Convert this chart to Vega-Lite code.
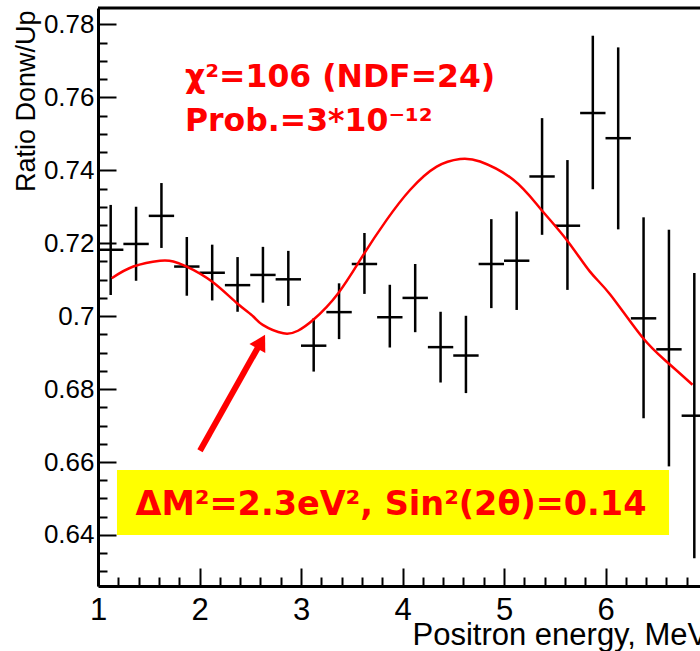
{
  "$schema": "https://vega.github.io/schema/vega-lite/v6.json",
  "width": 602,
  "height": 578,
  "autosize": {"type": "none"},
  "padding": {"left": 98, "top": 8, "right": 0, "bottom": 65},
  "background": "white",
  "config": {
    "view": {"stroke": null},
    "axis": {
      "grid": false,
      "tickColor": "black",
      "tickWidth": 2,
      "domainColor": "black",
      "domainWidth": 3,
      "labelFont": "Liberation Sans",
      "labelColor": "black",
      "labelFlush": false,
      "labelOverlap": false,
      "titleFont": "Liberation Sans",
      "titleFontWeight": "normal",
      "titleColor": "black"
    }
  },
  "resolve": {"axis": {"x": "independent", "y": "independent"}},
  "datasets": {
    "pts": [
      {"E": 1.125, "xlo": 1.0, "xhi": 1.25, "v": 0.7182, "lo": 0.7058, "hi": 0.7305},
      {"E": 1.375, "xlo": 1.25, "xhi": 1.5, "v": 0.7198, "lo": 0.7097, "hi": 0.7300},
      {"E": 1.625, "xlo": 1.5, "xhi": 1.75, "v": 0.7275, "lo": 0.7187, "hi": 0.7365},
      {"E": 1.875, "xlo": 1.75, "xhi": 2.0, "v": 0.7136, "lo": 0.7056, "hi": 0.7217},
      {"E": 2.125, "xlo": 2.0, "xhi": 2.25, "v": 0.7119, "lo": 0.7043, "hi": 0.7196},
      {"E": 2.375, "xlo": 2.25, "xhi": 2.5, "v": 0.7085, "lo": 0.7012, "hi": 0.7162},
      {"E": 2.625, "xlo": 2.5, "xhi": 2.75, "v": 0.7113, "lo": 0.7037, "hi": 0.7190},
      {"E": 2.875, "xlo": 2.75, "xhi": 3.0, "v": 0.7101, "lo": 0.7028, "hi": 0.7179},
      {"E": 3.125, "xlo": 3.0, "xhi": 3.25, "v": 0.6919, "lo": 0.6848, "hi": 0.6994},
      {"E": 3.375, "xlo": 3.25, "xhi": 3.5, "v": 0.7011, "lo": 0.6937, "hi": 0.7090},
      {"E": 3.625, "xlo": 3.5, "xhi": 3.75, "v": 0.7143, "lo": 0.7061, "hi": 0.7228},
      {"E": 3.875, "xlo": 3.75, "xhi": 4.0, "v": 0.6997, "lo": 0.6914, "hi": 0.7086},
      {"E": 4.125, "xlo": 4.0, "xhi": 4.25, "v": 0.7050, "lo": 0.6956, "hi": 0.7143},
      {"E": 4.375, "xlo": 4.25, "xhi": 4.5, "v": 0.6915, "lo": 0.6818, "hi": 0.7012},
      {"E": 4.625, "xlo": 4.5, "xhi": 4.75, "v": 0.6892, "lo": 0.6789, "hi": 0.7001},
      {"E": 4.875, "xlo": 4.75, "xhi": 5.0, "v": 0.7143, "lo": 0.7022, "hi": 0.7266},
      {"E": 5.125, "xlo": 5.0, "xhi": 5.25, "v": 0.7152, "lo": 0.7017, "hi": 0.7287},
      {"E": 5.375, "xlo": 5.25, "xhi": 5.5, "v": 0.7383, "lo": 0.7223, "hi": 0.7543},
      {"E": 5.625, "xlo": 5.5, "xhi": 5.75, "v": 0.7248, "lo": 0.7072, "hi": 0.7428},
      {"E": 5.875, "xlo": 5.75, "xhi": 6.0, "v": 0.7557, "lo": 0.7348, "hi": 0.7769},
      {"E": 6.125, "xlo": 6.0, "xhi": 6.25, "v": 0.7488, "lo": 0.7238, "hi": 0.7737},
      {"E": 6.375, "xlo": 6.25, "xhi": 6.5, "v": 0.6994, "lo": 0.6720, "hi": 0.7271},
      {"E": 6.625, "xlo": 6.5, "xhi": 6.75, "v": 0.6909, "lo": 0.6588, "hi": 0.7237},
      {"E": 6.875, "xlo": 6.75, "xhi": 7.0, "v": 0.6727, "lo": 0.6336, "hi": 0.7118}
    ],
    "fit": [
      {"E": 1.135, "v": 0.7104},
      {"E": 1.348, "v": 0.7136},
      {"E": 1.611, "v": 0.7152},
      {"E": 1.742, "v": 0.7150},
      {"E": 1.874, "v": 0.7136},
      {"E": 2.123, "v": 0.7095},
      {"E": 2.367, "v": 0.7036},
      {"E": 2.530, "v": 0.6999},
      {"E": 2.623, "v": 0.6976},
      {"E": 2.826, "v": 0.6953},
      {"E": 2.970, "v": 0.6960},
      {"E": 3.121, "v": 0.6990},
      {"E": 3.367, "v": 0.7063},
      {"E": 3.614, "v": 0.7168},
      {"E": 3.844, "v": 0.7264},
      {"E": 4.074, "v": 0.7346},
      {"E": 4.337, "v": 0.7410},
      {"E": 4.567, "v": 0.7431},
      {"E": 4.764, "v": 0.7424},
      {"E": 5.092, "v": 0.7374},
      {"E": 5.355, "v": 0.7296},
      {"E": 5.618, "v": 0.7209},
      {"E": 5.847, "v": 0.7122},
      {"E": 6.044, "v": 0.7060},
      {"E": 6.357, "v": 0.6944},
      {"E": 6.603, "v": 0.6875},
      {"E": 6.857, "v": 0.6812}
    ],
    "box": [{"x1": 1.187, "x2": 6.626, "y1": 0.6578, "y2": 0.640}],
    "arrow": [{"x1": 2.005, "y1": 0.6631, "x2": 2.586, "y2": 0.6919}],
    "head": [{"E": 2.608, "v": 0.6930, "ang": 29.3}],
    "labels": [
      {"E": 1.857, "v": 0.7629, "t": "χ²=106 (NDF=24)"},
      {"E": 1.857, "v": 0.7508, "t": "Prob.=3*10⁻¹²"}
    ],
    "boxtext": [{"E": 3.887, "v": 0.6455, "t": "ΔM²=2.3eV², Sin²(2θ)=0.14"}]
  },
  "layer": [
    {
      "data": {"name": "box"},
      "mark": {"type": "rect", "color": "#ffff00"},
      "encoding": {
        "x": {
          "field": "x1", "type": "quantitative",
          "scale": {"domain": [1, 6.931], "nice": false, "zero": false},
          "title": "Positron energy, MeV",
          "axis": {
            "orient": "bottom",
            "values": [1, 2, 3, 4, 5, 6, 7],
            "format": "d",
            "tickSize": -18,
            "labelFontSize": 31,
            "labelPadding": 27,
            "labelBaseline": "top",
            "titleFontSize": 31,
            "titleAnchor": "start",
            "titleAlign": "left",
            "titleBaseline": "alphabetic",
            "titleX": 314,
            "titleY": 58
          }
        },
        "x2": {"field": "x2"},
        "y": {
          "field": "y1", "type": "quantitative",
          "scale": {"domain": [0.626, 0.7845], "nice": false, "zero": false},
          "title": "Ratio Donw/Up",
          "axis": {
            "orient": "left",
            "values": [0.64, 0.66, 0.68, 0.7, 0.72, 0.74, 0.76, 0.78],
            "format": ".2~f",
            "tickSize": -18,
            "labelFontSize": 26,
            "labelPadding": 22,
            "labelBaseline": "middle",
            "titleFontSize": 27,
            "titleAngle": -90,
            "titleAlign": "right",
            "titleBaseline": "alphabetic",
            "titleX": -64,
            "titleY": 2
          }
        },
        "y2": {"field": "y2"}
      }
    },
    {
      "data": {"name": "pts"},
      "mark": {"type": "rule", "color": "black", "strokeWidth": 2.5},
      "encoding": {
        "x": {
          "field": "E", "type": "quantitative", "title": null,
          "axis": {
            "orient": "bottom",
            "values": [1.2, 1.4, 1.6, 1.8, 2.2, 2.4, 2.6, 2.8, 3.2, 3.4, 3.6, 3.8, 4.2, 4.4, 4.6, 4.8, 5.2, 5.4, 5.6, 5.8, 6.2, 6.4, 6.6, 6.8],
            "tickSize": -9,
            "labels": false,
            "domain": false
          }
        },
        "y": {
          "field": "lo", "type": "quantitative", "title": null,
          "axis": {
            "orient": "left",
            "values": [0.63, 0.635, 0.645, 0.65, 0.655, 0.665, 0.67, 0.675, 0.685, 0.69, 0.695, 0.705, 0.71, 0.715, 0.725, 0.73, 0.735, 0.745, 0.75, 0.755, 0.765, 0.77, 0.775],
            "tickSize": -9,
            "labels": false,
            "domain": false
          }
        },
        "y2": {"field": "hi"}
      }
    },
    {
      "data": {"name": "pts"},
      "mark": {"type": "rule", "color": "black", "strokeWidth": 2.5},
      "encoding": {
        "x": {"field": "xlo", "type": "quantitative", "axis": null},
        "x2": {"field": "xhi"},
        "y": {"field": "v", "type": "quantitative", "axis": null}
      }
    },
    {
      "data": {"name": "fit"},
      "mark": {"type": "line", "color": "#ff0000", "strokeWidth": 2.5, "interpolate": "natural"},
      "encoding": {
        "x": {"field": "E", "type": "quantitative", "axis": null},
        "y": {"field": "v", "type": "quantitative", "axis": null}
      }
    },
    {
      "data": {"name": "arrow"},
      "mark": {"type": "rule", "color": "#ff0000", "strokeWidth": 6},
      "encoding": {
        "x": {"field": "x1", "type": "quantitative", "axis": null},
        "y": {"field": "y1", "type": "quantitative", "axis": null},
        "x2": {"field": "x2"},
        "y2": {"field": "y2"}
      }
    },
    {
      "data": {"name": "head"},
      "mark": {"type": "point", "shape": "triangle-up", "filled": true, "color": "#ff0000", "opacity": 1, "size": 330},
      "encoding": {
        "x": {"field": "E", "type": "quantitative", "axis": null},
        "y": {"field": "v", "type": "quantitative", "axis": null},
        "angle": {"field": "ang", "type": "quantitative", "scale": null}
      }
    },
    {
      "data": {"name": "labels"},
      "mark": {"type": "text", "color": "#ff0000", "font": "DejaVu Sans", "fontWeight": "bold", "fontSize": 31.5, "align": "left", "baseline": "alphabetic"},
      "encoding": {
        "x": {"field": "E", "type": "quantitative", "axis": null},
        "y": {"field": "v", "type": "quantitative", "axis": null},
        "text": {"field": "t"}
      }
    },
    {
      "data": {"name": "boxtext"},
      "mark": {"type": "text", "color": "#ff0000", "font": "DejaVu Sans", "fontWeight": "bold", "fontSize": 33.5, "align": "center", "baseline": "alphabetic"},
      "encoding": {
        "x": {"field": "E", "type": "quantitative", "axis": null},
        "y": {"field": "v", "type": "quantitative", "axis": null},
        "text": {"field": "t"}
      }
    },
    {
      "data": {"values": [{}]},
      "mark": {"type": "rule", "color": "black", "strokeWidth": 3},
      "encoding": {
        "y": {"datum": 0.7845, "type": "quantitative", "axis": null}
      }
    }
  ]
}
